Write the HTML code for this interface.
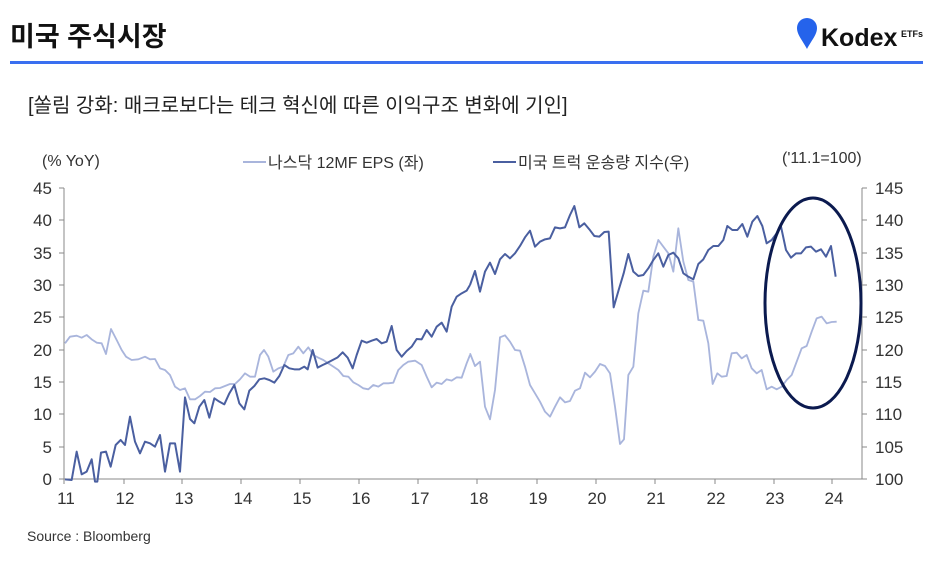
<!DOCTYPE html>
<html><head><meta charset="utf-8"><style>
body{margin:0;background:#fff;width:940px;height:573px;overflow:hidden;font-family:"Liberation Sans","Noto Sans CJK KR",sans-serif}
svg text{font-family:"Liberation Sans","Noto Sans CJK KR",sans-serif}
</style></head><body>
<svg width="940" height="573" viewBox="0 0 940 573" xmlns="http://www.w3.org/2000/svg">
<text x="10" y="46" font-size="27" font-weight="bold" fill="#111">미국 주식시장</text>
<path d="M797 28 a10 10 0 0 1 20 0 c0 7 -6 13 -10 21 c-4 -8 -10 -14 -10 -21z" fill="#2563eb"/>
<text x="821" y="46" font-size="25" font-weight="bold" fill="#111">Kodex</text>
<text x="901" y="37" font-size="9" font-weight="bold" fill="#111">ETFs</text>
<rect x="10" y="61" width="913" height="3" fill="#3a6ff0"/>
<text x="28" y="112" font-size="20" fill="#222">[쏠림 강화: 매크로보다는 테크 혁신에 따른 이익구조 변화에 기인]</text>
<g font-size="16" fill="#333">
<text x="42" y="166">(% YoY)</text>
<line x1="243" y1="162" x2="266" y2="162" stroke="#a9b5dc" stroke-width="2"/>
<text x="268" y="168">나스닥 12MF EPS (좌)</text>
<line x1="493" y1="162" x2="516" y2="162" stroke="#4a5fa0" stroke-width="2"/>
<text x="518" y="168">미국 트럭 운송량 지수(우)</text>
<text x="782" y="163">('11.1=100)</text>
</g>
<g stroke="#888" stroke-width="1" fill="none">
<path d="M64 188 V479 H862 V188"/>
<path d="M59 188H64M59 220H64M59 253H64M59 285H64M59 317H64M59 350H64M59 382H64M59 414H64M59 447H64M59 479H64"/>
<path d="M862 188H867M862 220H867M862 253H867M862 285H867M862 317H867M862 350H867M862 382H867M862 414H867M862 447H867M862 479H867"/>
<path d="M64 479v5M124 479v5M182 479v5M241 479v5M300 479v5M359 479v5M418 479v5M477 479v5M537 479v5M596 479v5M655 479v5M715 479v5M774 479v5M832 479v5"/>
</g>
<g font-size="17" fill="#333" text-anchor="end">
<text x="52" y="194">45</text><text x="52" y="226">40</text><text x="52" y="259">35</text><text x="52" y="291">30</text><text x="52" y="323">25</text><text x="52" y="356">20</text><text x="52" y="388">15</text><text x="52" y="420">10</text><text x="52" y="453">5</text><text x="52" y="485">0</text>
</g>
<g font-size="17" fill="#333">
<text x="875" y="194">145</text><text x="875" y="226">140</text><text x="875" y="259">135</text><text x="875" y="291">130</text><text x="875" y="323">125</text><text x="875" y="356">120</text><text x="875" y="388">115</text><text x="875" y="420">110</text><text x="875" y="453">105</text><text x="875" y="485">100</text>
</g>
<g font-size="17" fill="#333" text-anchor="middle">
<text x="66" y="504">11</text><text x="125" y="504">12</text><text x="184" y="504">13</text><text x="243" y="504">14</text><text x="302" y="504">15</text><text x="361" y="504">16</text><text x="420" y="504">17</text><text x="479" y="504">18</text><text x="538" y="504">19</text><text x="597" y="504">20</text><text x="656" y="504">21</text><text x="716" y="504">22</text><text x="775" y="504">23</text><text x="834" y="504">24</text>
</g>
<g fill="none" stroke-linejoin="round">
<g transform="translate(0,140) scale(0.33333)">
<polyline stroke="#a9b5dc" stroke-width="5.5" points="195,610 210,590 230,587 245,593 260,585 275,598 290,608 305,610 318,642 333,567 350,600 365,630 378,650 395,660 415,658 435,650 450,658 465,657 480,685 495,690 510,705 525,740 540,750 555,745 570,778 585,778 600,768 615,755 630,756 645,745 660,744 675,738 690,732 705,732 720,718 735,700 750,710 765,710 780,645 792,630 805,650 820,695 835,685 850,680 865,645 880,640 895,620 910,640 925,622 940,645 955,653 970,660 985,670 1000,680 1015,690 1030,708 1045,710 1060,727 1075,735 1090,745 1105,748 1120,735 1135,740 1150,730 1165,730 1180,728 1195,690 1210,675 1225,665 1245,662 1265,675 1280,710 1295,742 1310,728 1325,732 1340,718 1355,722 1370,712 1385,713 1400,670 1410,645"/>
<polyline stroke="#4a5fa0" stroke-width="6" points="195,1018 215,1020 230,935 245,1003 260,995 275,958 285,1025 292,1025 303,938 318,935 332,980 347,915 362,900 375,915 390,830 405,905 420,940 435,905 450,910 465,920 480,885 495,995 510,910 525,910 540,995 555,772 570,837 583,850 598,800 613,780 628,833 643,775 658,785 673,793 688,760 703,735 718,790 733,808 748,752 763,738 778,718 793,715 808,720 823,728 838,708 853,675 868,685 883,688 898,688 913,680 923,688 938,630 953,683 968,675 983,668 998,660 1013,652 1028,637 1043,653 1058,685 1070,645 1085,602 1100,608 1115,602 1130,597 1145,610 1160,605 1175,558 1190,630 1205,650 1220,633 1235,620 1250,597 1265,598 1280,570 1295,590 1310,560 1325,548 1340,575 1355,500 1370,470 1385,460 1400,452 1410,435"/>
</g>
<g transform="translate(470,140) scale(0.33333)">
<polyline stroke="#a9b5dc" stroke-width="5.5" points="0,640 15,678 30,665 45,800 60,838 75,750 90,592 105,586 120,605 135,630 150,632 165,680 180,735 195,760 210,785 225,815 240,830 255,800 270,772 285,787 300,783 315,752 330,745 345,698 360,712 375,695 390,672 405,678 420,700 435,800 450,912 462,898 475,705 490,680 505,520 520,452 535,455 550,350 565,300 580,320 595,340 610,395 625,265 640,365 655,420 670,425 685,540 700,542 715,610 728,732 742,700 755,710 770,708 785,640 800,638 815,655 830,645 845,685 860,700 875,690 890,748 905,740 920,748 935,740 950,720 965,705 980,665 995,625 1010,618 1025,575 1040,535 1055,530 1070,550 1085,546 1100,545"/>
<polyline stroke="#4a5fa0" stroke-width="6" points="0,435 15,393 30,455 45,395 60,368 75,402 90,358 105,342 120,355 135,340 150,318 165,292 180,272 195,320 210,305 225,298 240,295 255,262 270,265 285,262 300,225 313,198 328,262 343,250 358,268 373,288 388,290 403,276 416,275 431,502 446,450 461,400 475,342 490,395 505,408 520,405 535,385 550,360 565,340 580,380 595,345 610,338 625,355 640,400 655,410 670,418 685,372 700,358 715,330 730,318 745,318 760,300 772,258 787,270 802,270 817,252 832,290 847,245 862,228 877,258 890,310 905,300 920,280 932,255 948,330 963,353 978,340 993,340 1008,322 1023,320 1038,335 1053,328 1068,350 1083,318 1097,410"/>
</g>
</g>
<ellipse cx="813" cy="303" rx="48" ry="105" fill="none" stroke="#0b1a4f" stroke-width="3"/>
<text x="27" y="541" font-size="14" fill="#333">Source : Bloomberg</text>
</svg>
</body></html>
